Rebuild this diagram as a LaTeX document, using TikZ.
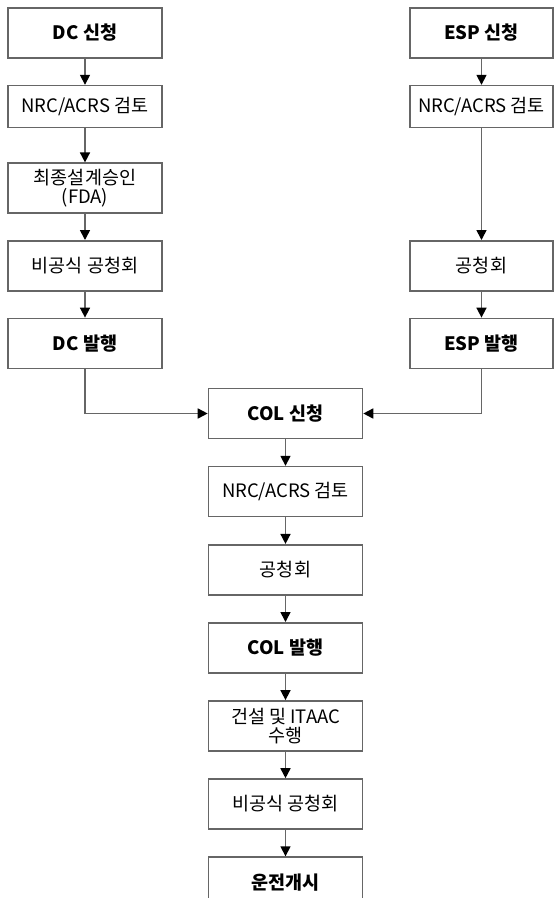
\documentclass[tikz,border=0pt]{standalone}
\usepackage{fontspec}
\setmainfont{Noto Sans CJK KR}
\usepackage{tikz}
\usetikzlibrary{positioning, arrows.meta}
\tikzset{
  stage/.style={
    draw=black!60, line width=1.6pt,
    minimum width=154pt, minimum height=50pt,
    inner sep=1pt, align=center,
    font=\fontsize{18.5pt}{19pt}\selectfont
  },
  keystage/.style={stage, font=\fontsize{18.5pt}{19pt}\selectfont\bfseries},
  short/.style={minimum height=42pt},
  narrow/.style={minimum width=143pt},
  flow/.style={draw=black!60, line width=1.6pt,
    -{Triangle[width=10pt,length=10pt,color=black]}}
}

\begin{document}
\begin{tikzpicture}[x=1pt, y=1pt, node distance=26pt]
          \useasboundingbox (0,0) rectangle (555,-898);

          % design certification
          \node[keystage] (dc1) at (85,-33) {DC 신청};
          \node[stage, short] (dc2) [below=of dc1] {NRC/ACRS 검토};
          \node[stage] (dc3) [below=34pt of dc2] {최종설계승인\\(FDA)};
          \node[stage] (dc4) [below=of dc3] {비공식 공청회};
          \node[keystage] (dc5) [below=of dc4] {DC 발행};

          % early site permit
          \node[keystage, narrow] (esp1) at (481.5,-33) {ESP 신청};
          \node[stage, narrow, short] (esp2) [below=of esp1] {NRC/ACRS 검토};
          \node[stage, narrow] (esp3) at (esp2 |- dc4) {공청회};
          \node[keystage, narrow] (esp4) [below=of esp3] {ESP 발행};

          % combined licence
          \node[keystage] (col1) at (285.5,-413.5) {COL 신청};
          \node[stage] (col2) [below=26.5pt of col1] {NRC/ACRS 검토};
          \node[stage] (col3) [below=26.5pt of col2] {공청회};
          \node[keystage] (col4) [below=26.5pt of col3] {COL 발행};
          \node[stage] (col5) [below=26.5pt of col4] {건설 및 ITAAC\\수행};
          \node[stage] (col6) [below=26.5pt of col5] {비공식 공청회};
          \node[keystage] (col7) [below=26.5pt of col6] {운전개시};

          \foreach \a/\b in {dc1/dc2, dc2/dc3, dc3/dc4, dc4/dc5,
                             esp1/esp2, esp2/esp3, esp3/esp4,
                             col1/col2, col2/col3, col3/col4,
                             col4/col5, col5/col6, col6/col7}
            \draw[flow] (\a) -- (\b);

          \draw[flow] (dc5) |- (col1);
          \draw[flow] (esp4) |- (col1);
        \end{tikzpicture}
\end{document}
